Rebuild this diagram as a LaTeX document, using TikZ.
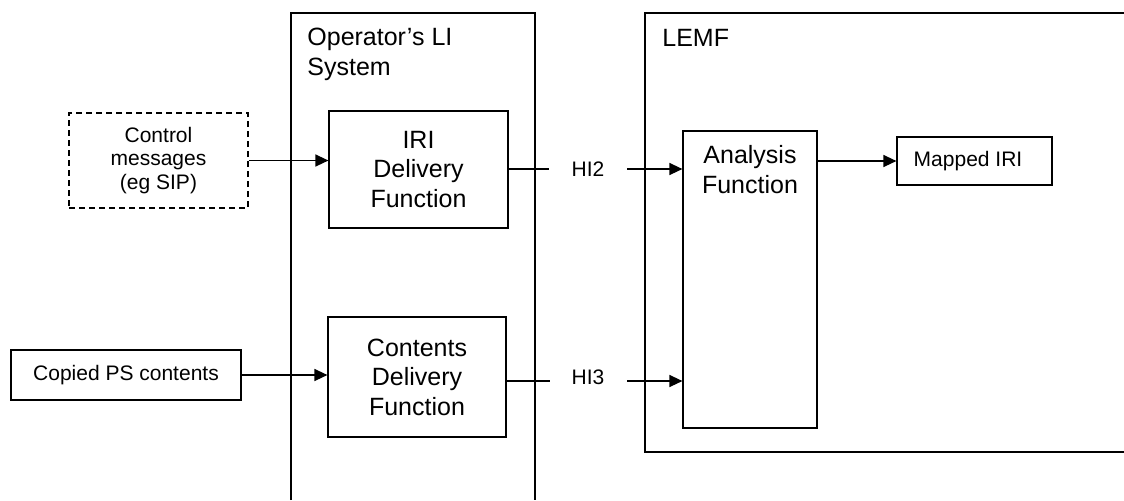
\documentclass[tikz,border=0pt]{standalone}
\usepackage{fontspec}
\setmainfont{Liberation Sans}
\usetikzlibrary{arrows.meta}
\begin{document}
\begin{tikzpicture}[x=0.5pt,y=-0.5pt,
  frame/.style={line width=0.6pt},
  box/.style={draw, line width=0.6pt, inner sep=0pt, align=center},
  big/.style={font=\fontsize{12.5}{14.8}\selectfont},
  small/.style={font=\fontsize{10.5}{11.6}\selectfont},
  ln/.style={line width=0.7pt},
  arr/.style={ln, -{Triangle[length=6.5pt,width=6pt]}}]
\useasboundingbox (0,0) rectangle (1124,500);
\fill[white] (0,0) rectangle (1124,500);
% frames
\draw[frame] (291,500) -- (291,13) -- (535,13) -- (535,500);
\draw[frame] (1124,13) -- (645,13) -- (645,452) -- (1124,452);
\node[big,align=left,anchor=north west,inner sep=0pt] (oplabel) at (307,28) {Operator’s LI\\System};
\node[big,anchor=base west,inner sep=0pt] (lemflabel) at (662,46) {LEMF};
% boxes
\node[box,small,dash pattern=on 3pt off 2pt,minimum width=89.5pt,minimum height=47.5pt] (ctrl) at (158.5,160.5) {Control\\messages\\(eg SIP)};
\node[box,small,minimum width=115pt,minimum height=25pt] (copied) at (126,375) {Copied PS contents};
\node[box,big,minimum width=89.5pt,minimum height=58.5pt] (iri) at (418.5,169.5) {IRI\\Delivery\\Function};
\node[box,big,minimum width=89pt,minimum height=60pt] (cdf) at (417,377) {Contents\\Delivery\\Function};
\node[box,minimum width=67pt,minimum height=148.5pt] (ana) at (750,279.5) {};
\node[big,align=center,anchor=north,inner sep=0pt] (analabel) at (750,145) {Analysis\\Function};
\node[box,minimum width=77.5pt,minimum height=24pt] (mapped) at (974.5,161) {};
\node[small,inner sep=0pt] (mappedlabel) at (968,161) {Mapped IRI};
% interface labels
\node[small,inner sep=0pt] (hi2) at (588,169.5) {HI2};
\node[small,inner sep=0pt] (hi3) at (588,377) {HI3};
\coordinate (hi2a) at (549,169);
\coordinate (hi2b) at (627,169);
\coordinate (hi3a) at (550,381);
\coordinate (hi3b) at (627,381);
% connectors
\draw[arr] (ctrl.east) -- (ctrl.east -| iri.west);
\draw[arr] (copied.east) -- (copied.east -| cdf.west);
\draw[ln] (iri.east |- hi2a) -- (hi2a);
\draw[arr] (hi2b) -- (hi2b -| ana.west);
\draw[ln] (cdf.east |- hi3a) -- (hi3a);
\draw[arr] (hi3b) -- (hi3b -| ana.west);
\draw[arr] (ana.east |- mapped.west) -- (mapped.west);
\end{tikzpicture}
\end{document}
